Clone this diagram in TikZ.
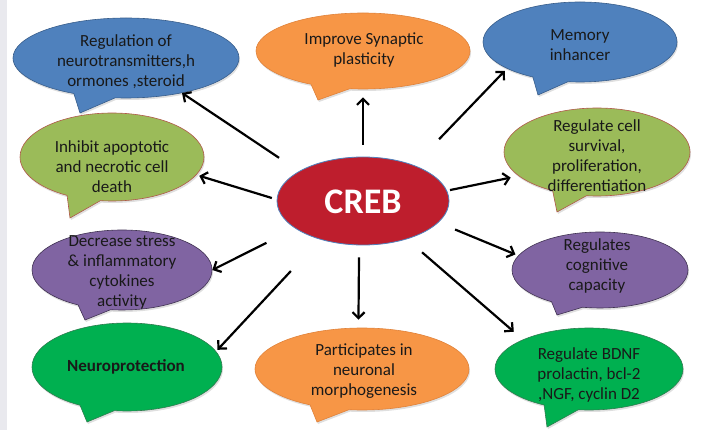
\documentclass[tikz,border=0pt]{standalone}
\usepackage{fontspec}
\setmainfont{Carlito}
\usetikzlibrary{shapes.geometric,shapes.callouts,shadows,arrows.meta}

\definecolor{cblue}{HTML}{4F81BD}
\definecolor{cbluedk}{HTML}{385D8A}
\definecolor{corange}{HTML}{F79646}
\definecolor{corangedk}{HTML}{E0823A}
\definecolor{cgreen}{HTML}{9BBB59}
\definecolor{cgreendk}{HTML}{B0584A}
\definecolor{cpurple}{HTML}{8064A2}
\definecolor{cpurpledk}{HTML}{3F3151}
\definecolor{cbright}{HTML}{00B050}
\definecolor{cbrightdk}{HTML}{2E7D4F}
\definecolor{cred}{HTML}{BE1E2D}
\definecolor{cband}{HTML}{E9E9EE}

\tikzset{
  bubble/.style 2 args={ellipse callout, fill=#1, draw=#2, line width=0.6pt,
    inner sep=0pt, callout pointer arc=22,
    drop shadow={opacity=0.25, shadow xshift=1pt, shadow yshift=-2pt}},
  txt/.style={align=center, font=\fontsize{17}{20}\selectfont, text=black!90},
  arr/.style={-{Straight Barb[length=6pt,width=12pt]}, line width=2.2pt},
}

\begin{document}
\begin{tikzpicture}[x=1pt,y=-1pt]
\useasboundingbox (0,0) rectangle (701,430);
\fill[cband] (0,0) rectangle (7,430);

% centre
\node[ellipse, fill=cred, draw=cblue, line width=0.8pt, minimum width=172pt,
  minimum height=88pt, inner sep=0pt] (creb) at (363,201) {};
\node[font=\fontsize{36}{40}\selectfont\bfseries, text=white] (crebtxt) at (363,202) {CREB};

% bubbles
\node[bubble={cblue}{cbluedk}, minimum width=226pt, minimum height=80pt,
  callout absolute pointer={(80,113)}] (regul) at (126,58) {};
\node[txt] (regultxt) at (126,62) {Regulation of\\neurotransmitters,h\\ormones ,steroid};

\node[bubble={corange}{corangedk}, minimum width=214pt, minimum height=76pt,
  callout absolute pointer={(318,100)}] (synap) at (363,51) {};
\node[txt] (synaptxt) at (364,50) {Improve Synaptic\\plasticity};

\node[bubble={cblue}{cbluedk}, minimum width=194pt, minimum height=80pt,
  callout absolute pointer={(538,95)}] (memory) at (580,42) {};
\node[txt] (memorytxt) at (580,45) {Memory\\inhancer};

\node[bubble={cgreen}{cgreendk}, minimum width=184pt, minimum height=88pt,
  callout absolute pointer={(70,218)}] (inhibit) at (112,157) {};
\node[txt] (inhibittxt) at (112,167) {Inhibit apoptotic\\and necrotic cell\\death};

\node[bubble={cgreen}{cgreendk}, minimum width=186pt, minimum height=88pt,
  callout absolute pointer={(557,212)}] (survival) at (597,152) {};
\node[txt] (survivaltxt) at (597,156) {Regulate cell\\survival,\\proliferation,\\differentiation};

\node[bubble={cpurple}{cpurpledk}, minimum width=180pt, minimum height=80pt,
  callout absolute pointer={(85,320)}] (stress) at (122,270) {};
\node[txt] (stresstxt) at (122,272) {Decrease stress\\\& inflammatory\\cytokines\\activity};

\node[bubble={cpurple}{cpurpledk}, minimum width=176pt, minimum height=76pt,
  callout absolute pointer={(557,315)}] (cognit) at (600,270) {};
\node[txt] (cognittxt) at (597,266) {Regulates\\cognitive\\capacity};

\node[bubble={cbright}{cbrightdk}, minimum width=190pt, minimum height=88pt,
  callout absolute pointer={(87,422)}] (neuro) at (127,367) {};
\node[txt, font=\fontsize{17}{20}\selectfont\bfseries] (neurotxt) at (126,367) {Neuroprotection};

\node[bubble={corange}{corangedk}, minimum width=214pt, minimum height=82pt,
  callout absolute pointer={(317,422)}] (morpho) at (362,369) {};
\node[txt] (morphotxt) at (364,371) {Participates in\\neuronal\\morphogenesis};

\node[bubble={cbright}{cbrightdk}, minimum width=188pt, minimum height=82pt,
  callout absolute pointer={(547,427)}] (bdnf) at (589,369) {};
\node[txt] (bdnftxt) at (589,375) {Regulate BDNF\\prolactin, bcl-2\\,NGF, cyclin D2};

% arrows
\draw[arr, shorten <=12pt, shorten >=8pt] (creb.north) -- (synap.south);
\draw[arr, shorten <=24pt] (creb.155) -- (regul.-32);
\draw[arr, shorten <=5pt, shorten >=3pt] (creb.179) -- (inhibit.-12);
\draw[arr, shorten <=32pt] (creb.202) -- (stress.east);
\draw[arr, shorten <=43pt, shorten >=2pt] (creb.222) -- (neuro.10);
\draw[arr, shorten <=12pt, shorten >=8pt] (creb.265) -- (morpho.95);
\draw[arr, shorten <=20pt, shorten >=12pt] (creb.-41) -- (bdnf.156);
\draw[arr, shorten <=18pt, shorten >=3pt] (creb.-16) -- (cognit.170);
\draw[arr, shorten <=3pt, shorten >=8pt] (creb.7) -- (survival.197);
\draw[arr, shorten <=36pt, shorten >=3pt] (creb.35) -- (memory.200);
\end{tikzpicture}
\end{document}
